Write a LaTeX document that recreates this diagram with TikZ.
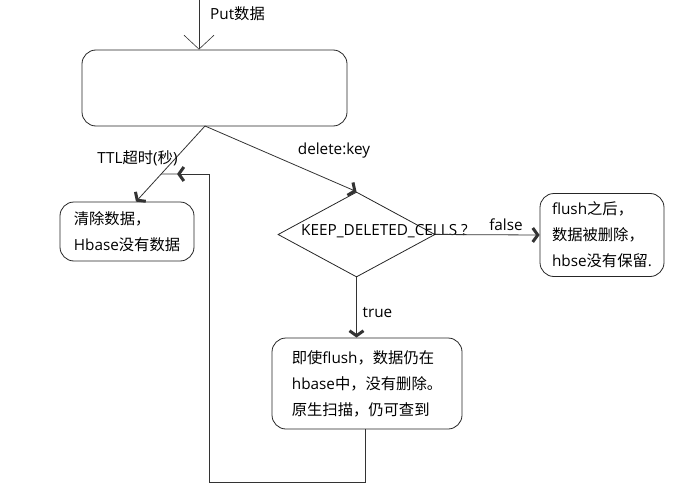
\documentclass[tikz,border=0pt]{standalone}
\usepackage{fontspec}
\setmainfont{Open Sans}
\newfontfamily\cjk{Noto Sans CJK SC}
\usetikzlibrary{arrows.meta,shapes.geometric,calc}
\begin{document}
\begin{tikzpicture}[x=1pt,y=-1pt,
  font=\fontsize{15.3}{26}\selectfont,
  box/.style={draw=black!85, rounded corners=14pt, line width=0.8pt, align=left, inner sep=0pt},
  conn/.style={line width=0.8pt, draw=black!80},
  barb/.style={-{Straight Barb[length=5pt,width=14pt,line width=3pt]}},
  thinbarb/.style={-{Straight Barb[length=14pt,width=30pt,line width=0.6pt]}},
  lbl/.style={inner sep=0pt}]
\useasboundingbox (0,0) rectangle (675,487);

% nodes
\node[box, minimum width=265pt, minimum height=76pt] (top) at (214.5,88) {};
\node[box, minimum width=134pt, minimum height=59pt] (lbox) at (127,231.5)
  {{\cjk 清除数据，}\\Hbase{\cjk 没有数据}};
\node[draw=black!85, line width=0.8pt, diamond, aspect=1.85, inner sep=0pt,
  minimum width=157pt, minimum height=85pt] (dia) at (356.5,234.5) {};
\node[lbl] (diat) at (384.5,231) {KEEP\_DELETED\_CELLS ?};
\node[box, minimum width=124pt, minimum height=83pt] (rbox) at (602,235)
  {flush{\cjk 之后，}\\{\cjk 数据被删除，}\\hbse{\cjk 没有保留}.};
\node[box, minimum width=190pt, minimum height=91pt] (bbox) at (367,383.5)
  {{\cjk 即使}flush{\cjk ，数据仍在}\\hbase{\cjk 中，没有删除。}\\{\cjk 原生扫描，仍可查到}};

% coordinates
\coordinate (in) at (199,0);
\coordinate (split) at (205,126);
\coordinate (ttlend) at ([xshift=9pt]lbox.north);
\coordinate (fb) at (209,174);
\coordinate (tipc) at (177,174);
\coordinate (j) at (intersection of split--ttlend and fb--tipc);

% connectors
\draw[conn, thinbarb] (in) -- (in |- top.north);
\node[lbl, anchor=west] (putl) at (210,14) {Put{\cjk 数据}};

\draw[conn, barb] (split) -- (ttlend);
\node[lbl] (ttl) at (137.5,158) {TTL{\cjk 超时}({\cjk 秒})};

\draw[conn, barb] (split) -- (dia.north);
\node[lbl] (del) at (334,151) {delete:key};

\draw[conn, barb] (dia.east) -- (rbox.west);
\node[lbl] (fl) at (506,225) {false};

\draw[conn, barb] (dia.south) -- (dia.south |- bbox.north);
\node[lbl] (tr) at (377.5,313) {true};

\draw[conn, barb] ([xshift=-2pt]bbox.south) -- ++(0,53) -| (fb) -- (tipc);
\draw[conn] (tipc) -- (j);
\end{tikzpicture}
\end{document}
